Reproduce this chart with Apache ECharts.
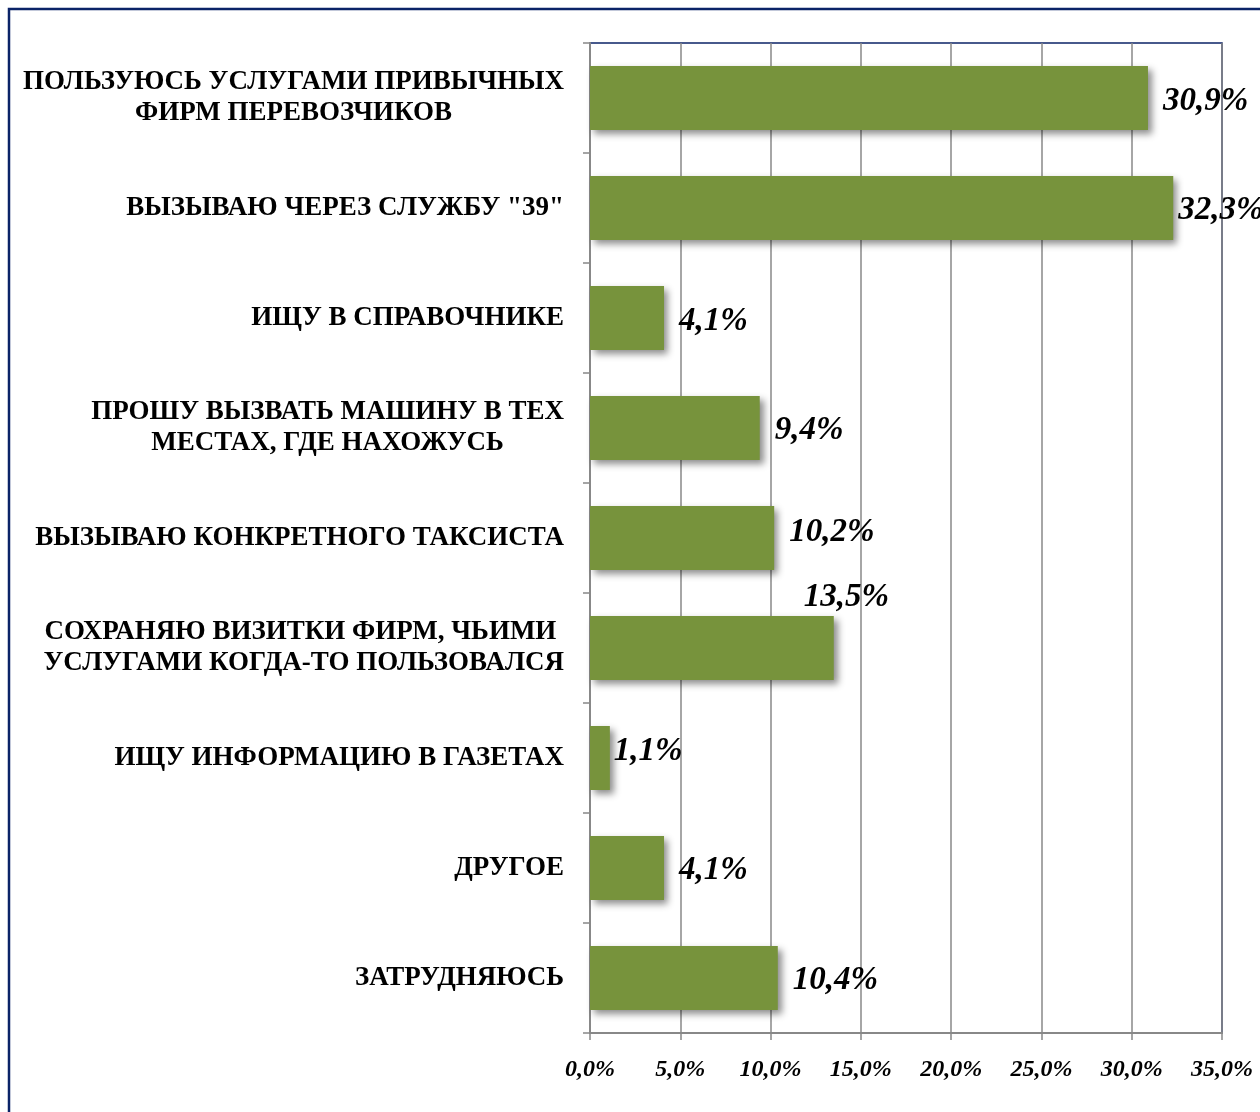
<!DOCTYPE html>
<html>
<head>
<meta charset="utf-8">
<script src="https://cdn.jsdelivr.net/npm/echarts@6/dist/echarts.min.js"></script>
<style>
  html, body { margin: 0; padding: 0; background: #ffffff; }
  #chart { width: 1260px; height: 1112px; }
</style>
</head>
<body>
<div id="chart"></div>
<script>
// Способы вызова такси (доля респондентов, %)
const categories = [
  'ПОЛЬЗУЮСЬ УСЛУГАМИ ПРИВЫЧНЫХ\nФИРМ ПЕРЕВОЗЧИКОВ',
  'ВЫЗЫВАЮ ЧЕРЕЗ СЛУЖБУ "39"',
  'ИЩУ В СПРАВОЧНИКЕ',
  'ПРОШУ ВЫЗВАТЬ МАШИНУ В ТЕХ\nМЕСТАХ, ГДЕ НАХОЖУСЬ',
  'ВЫЗЫВАЮ КОНКРЕТНОГО ТАКСИСТА',
  'СОХРАНЯЮ ВИЗИТКИ ФИРМ, ЧЬИМИ \nУСЛУГАМИ КОГДА-ТО ПОЛЬЗОВАЛСЯ',
  'ИЩУ ИНФОРМАЦИЮ В ГАЗЕТАХ',
  'ДРУГОЕ',
  'ЗАТРУДНЯЮСЬ'
];
const shares = [30.9, 32.3, 4.1, 9.4, 10.2, 13.5, 1.1, 4.1, 10.4];
const axisTicks = [0, 5, 10, 15, 20, 25, 30, 35];

// Сдвиги подписей значений там, где они не помещаются справа от столбика
const labelShift = {
  0: { offset: [0, 3] },
  1: { distance: 5, offset: [0, 2] },
  2: { offset: [0, 3] },
  3: { offset: [0, 2] },
  4: { offset: [0, -6] },
  5: { offset: [-45, -51] },
  6: { distance: 4, offset: [0, -7] },
  7: { offset: [0, 2] },
  8: { offset: [0, 2] }
};

const fmt = v => v.toFixed(1).replace('.', ',') + '%';
const SERIF = '"Liberation Serif", "Times New Roman", serif';
const GRAY = '#888888';
const NAVY = '#0b2367';

const chart = echarts.init(document.getElementById('chart'), null, { renderer: 'canvas' });

const barData = shares.map((v, i) => {
  const item = { value: v };
  if (labelShift[i]) item.label = Object.assign({}, labelShift[i]);
  return item;
});

chart.setOption({
  backgroundColor: '#ffffff',
  animation: false,
  graphic: [{
    type: 'rect',
    shape: { x: 9, y: 9, width: 1300, height: 1200 },
    style: { fill: 'none', stroke: NAVY, lineWidth: 2.5 },
    silent: true
  }],
  grid: {
    left: 590, right: 38, top: 43, bottom: 79,
    show: true,
    borderColor: NAVY,
    borderWidth: 1.5,
    backgroundColor: 'transparent'
  },
  xAxis: {
    type: 'value',
    min: axisTicks[0],
    max: axisTicks[axisTicks.length - 1],
    interval: axisTicks[1] - axisTicks[0],
    axisLine: { show: true, lineStyle: { color: GRAY, width: 2 } },
    axisTick: { show: true, inside: false, length: 7, lineStyle: { color: GRAY, width: 1.5 } },
    splitLine: { show: true, lineStyle: { color: GRAY, width: 1.5 } },
    axisLabel: {
      margin: 25,
      formatter: v => fmt(v),
      fontFamily: SERIF,
      fontWeight: 'bold',
      fontStyle: 'italic',
      fontSize: 24,
      color: '#000000'
    }
  },
  yAxis: {
    type: 'category',
    data: categories,
    inverse: true,
    axisLine: { show: true, lineStyle: { color: GRAY, width: 2 } },
    axisTick: { show: true, inside: false, length: 7, lineStyle: { color: GRAY, width: 1.5 } },
    splitLine: { show: false },
    axisLabel: {
      margin: 26,
      formatter: v => v.split('\n').map(s => '{c|' + s + '}').join('\n'),
      rich: {
        c: {
          align: 'center',
          fontFamily: SERIF,
          fontWeight: 'bold',
          fontSize: 27,
          lineHeight: 31,
          color: '#000000'
        }
      }
    }
  },
  series: [{
    type: 'bar',
    data: barData,
    barWidth: '58%',
    itemStyle: {
      color: '#77933c',
      shadowColor: 'rgba(0,0,0,0.45)',
      shadowBlur: 7,
      shadowOffsetX: 4,
      shadowOffsetY: 4
    },
    label: {
      show: true,
      position: 'right',
      distance: 15,
      formatter: p => fmt(p.value),
      fontFamily: SERIF,
      fontWeight: 'bold',
      fontStyle: 'italic',
      fontSize: 33,
      color: '#000000'
    }
  }]
});
</script>
</body>
</html>
